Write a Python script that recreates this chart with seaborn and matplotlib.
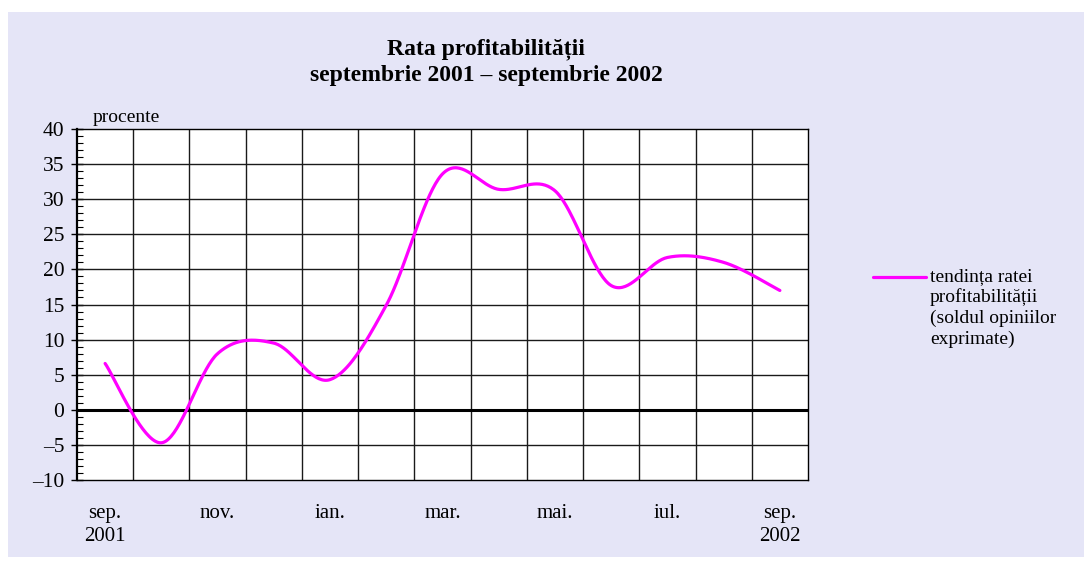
import numpy as np
import pandas as pd
import seaborn as sns
import matplotlib.pyplot as plt
from matplotlib.patches import Rectangle
from matplotlib.lines import Line2D
from matplotlib.ticker import FixedLocator, FixedFormatter, MultipleLocator

# ---- data ----
months = ["sep. 2001", "oct.", "nov.", "dec.", "ian.", "feb.", "mar.",
          "apr.", "mai.", "iun.", "iul.", "aug.", "sep. 2002"]
values = [6.6, -4.7, 8.0, 9.5, 4.3, 14.9, 33.6, 31.4, 31.2, 17.7, 21.7, 21.0, 17.0]
tick_labels = ["sep.\n2001", "nov.", "ian.", "mar.", "mai.", "iul.", "sep.\n2002"]
tick_positions = [0, 2, 4, 6, 8, 10, 12]
y_ticks = [-10, -5, 0, 5, 10, 15, 20, 25, 30, 35, 40]
series_label = "tendința ratei\nprofitabilității\n(soldul opiniilor\nexprimate)"
title = "Rata profitabilității\nseptembrie 2001 – septembrie 2002"

MAGENTA = "#FF00FF"

# ---- smoothed curve (Catmull-Rom / Excel-like smoothing through the data points) ----
def smooth(xs, ys, n=40):
    xs = np.asarray(xs, float); ys = np.asarray(ys, float)
    P = np.column_stack([xs, ys])
    out = []
    m = len(P)
    for i in range(m - 1):
        p0 = P[i - 1] if i > 0 else P[i]
        p1 = P[i]
        p2 = P[i + 1]
        p3 = P[i + 2] if i + 2 < m else P[i + 1]
        c1 = p1 + (p2 - p0) / 6.0
        c2 = p2 - (p3 - p1) / 6.0
        t = np.linspace(0, 1, n, endpoint=(i == m - 2))[:, None]
        seg = ((1 - t) ** 3) * p1 + 3 * ((1 - t) ** 2) * t * c1 + 3 * (1 - t) * t ** 2 * c2 + t ** 3 * p2
        out.append(seg)
    out = np.vstack(out)
    return out[:, 0], out[:, 1]

x_idx = np.arange(len(months))
sx, sy = smooth(x_idx, values)
df = pd.DataFrame({"x": sx, "y": sy})

# ---- style ----
sns.set_theme(style="white")
plt.rcParams["font.family"] = ["Liberation Serif", "DejaVu Serif"]
plt.rcParams["text.color"] = "black"
plt.rcParams["xtick.color"] = "black"
plt.rcParams["ytick.color"] = "black"

W, H = 1091, 565
fig = plt.figure(figsize=(W / 100, H / 100), dpi=100)
fig.patch.set_facecolor("white")

# background panel
bg = Rectangle((8 / W, 1 - 557 / H), (1084 - 8) / W, (557 - 12) / H,
               transform=fig.transFigure, facecolor="#e5e5f7", edgecolor="none",
               zorder=-10)
fig.patches.append(bg)

left, right, top, bottom = 77 / W, 808 / W, 1 - 129 / H, 1 - 480 / H
ax = fig.add_axes([left, bottom, right - left, top - bottom])
ax.set_facecolor("white")

sns.lineplot(data=df, x="x", y="y", ax=ax, color=MAGENTA, linewidth=2.3,
             sort=False, estimator=None, zorder=5)

ax.set_xlim(-0.5, len(months) - 0.5)
ax.set_ylim(-10, 40)

# y axis
ax.yaxis.set_major_locator(FixedLocator(y_ticks))
ax.yaxis.set_major_formatter(FixedFormatter([str(v).replace("-", "\u2013") for v in y_ticks]))
ax.yaxis.set_minor_locator(MultipleLocator(1))
ax.tick_params(axis="y", which="major", direction="inout", length=8, width=1.0,
               color="black", labelsize=15.5, pad=5, labelcolor="black", left=True)
ax.tick_params(axis="y", which="minor", direction="in", length=4, width=0.8,
               color="black", left=True)

# x axis
ax.xaxis.set_major_locator(FixedLocator(tick_positions))
ax.xaxis.set_major_formatter(FixedFormatter(tick_labels))
ax.tick_params(axis="x", which="both", length=0, labelsize=15, pad=17, labelcolor="black")
for lbl in ax.get_xticklabels():
    lbl.set_linespacing(1.28)

# grid
for yv in y_ticks[1:-1]:
    ax.axhline(yv, color="#1a1a1a", linewidth=1.0, zorder=1)
for xv in np.arange(0.5, len(months) - 0.5, 1.0):
    ax.axvline(xv, color="#1a1a1a", linewidth=1.0, zorder=1)
ax.axhline(0, color="black", linewidth=2.2, zorder=2)

for s in ax.spines.values():
    s.set_visible(True)
    s.set_color("black")
    s.set_linewidth(1.0)
ax.spines["left"].set_linewidth(1.6)

ax.set_xlabel("")
ax.set_ylabel("")

# texts
fig.text(486 / W, 1 - 62 / H, title, ha="center", va="center", fontsize=17,
         fontweight="bold", linespacing=1.32, color="black")
fig.text(93 / W, 1 - 117 / H, "procente", ha="left", va="center", fontsize=14,
         color="black")

# legend (manual)
fig.add_artist(Line2D([873 / W, 926 / W], [1 - 277 / H] * 2, color=MAGENTA,
                      linewidth=2.3, transform=fig.transFigure))
fig.text(930 / W, 1 - 268 / H, series_label, ha="left", va="top", fontsize=14,
         linespacing=1.25, color="black")

fig.savefig("out.png", dpi=100, facecolor="white")
